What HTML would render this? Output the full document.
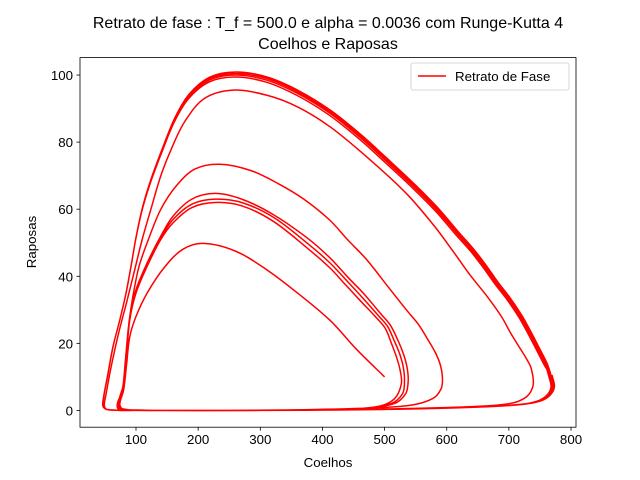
<!DOCTYPE html>
<html><head><meta charset="utf-8"><style>
body{margin:0;background:#fff;}
svg{display:block;font-family:"Liberation Sans","DejaVu Sans",sans-serif;}
</style></head><body>
<svg id="chart" width="640" height="480" viewBox="0 0 640 480" xmlns="http://www.w3.org/2000/svg">
<rect width="640" height="480" fill="#fff"/>
<text x="328" y="28" font-size="16" text-anchor="middle">Retrato de fase : T_f = 500.0 e alpha = 0.0036 com Runge-Kutta 4</text>
<text x="328" y="49" font-size="16" text-anchor="middle">Coelhos e Raposas</text>
<g id="plot"></g>
<rect x="80" y="57.6" width="496" height="369.6" fill="none" stroke="#000" stroke-width="0.8"/>
<g id="ticks"></g>
<text x="328" y="467" font-size="13.3" text-anchor="middle">Coelhos</text>
<text transform="translate(36,242) rotate(-90)" font-size="13.3" text-anchor="middle">Raposas</text>
<g>
<rect x="411" y="63" width="158" height="27" rx="2" fill="#fff" stroke="#ccc" stroke-width="0.8"/>
<line x1="418" y1="76" x2="446" y2="76" stroke="#f00" stroke-width="1.5"/>
<text x="455" y="81" font-size="13.3">Retrato de Fase</text>
</g>
</svg>
<script>
const xTicks=[100,200,300,400,500,600,700,800];
const yTicks=[0,20,40,60,80,100];
const loopA=[[500,10],[456,18],[412,26.9],[360,35],[310,42],[260,47.5],[208,49.8],[175,48],[145,42.5],[118,35],[100,28],[90,22],[85,14],[80,6],[74,2],[78,0.5],[110,0.1],[200,0],[320,0.05],[430,0.3],[490,1.2],[516,3.5],[527,8],[525,12],[519,16],[511,20],[501,24.5]];
const loopB=[[485,28],[462,32.5],[437,37.5],[412,42.5],[375,48.5],[320,56.5],[270,61],[227,62],[190,60.5],[160,56],[140,51],[118,43],[100,35],[90,27],[85,17],[80,7],[73,2],[76,0.5],[100,0.1],[200,0],[330,0.1],[455,0.5],[510,2],[529,5],[532,9],[530,13],[524,17],[515,21],[505,25]];
const loopC=[[489,28.5],[465,33.5],[440,38.5],[412,44],[378,49.5],[322,57.5],[270,62],[227,63],[190,61.5],[160,57],[140,51.5],[118,43.5],[100,35.5],[90,27.5],[85,17],[80,7],[72,2.2],[75,0.5],[100,0.1],[200,0],[330,0.1],[460,0.5],[515,2],[534,5],[538,9],[536,13],[530,17],[520,21.5],[509,25.5]];
const loopD=[[493,29],[468,34.5],[442,39.5],[412,45.5],[375,51.5],[320,58.5],[270,63],[227,64.7],[190,63],[160,58],[140,52],[118,44],[100,36],[90,28],[85,18],[80,8],[72,2.5],[74,0.5],[100,0.1],[200,0],[330,0.1],[460,0.6],[540,1.5],[577,3.5],[591,6.5],[593,10],[589,14],[581,17.5],[570,21]];
const loopE=[[555,25.5],[535,30],[505,37],[471,45],[440,51],[412,56.7],[370,63],[330,67.5],[285,71.5],[235,73.4],[195,72],[165,67],[140,60],[120,51],[105,43],[95,34],[88,25],[83,15],[78,6],[70,2],[72,0.4],[100,0.05],[250,0],[450,0.3],[620,1],[700,2],[728,4],[739,7.5],[736,12.5],[728,15.5],[718,18.5],[703,23]];
const loopF=[[688,28],[665,34],[637,40.5],[610,47.5],[580,55],[535,64.7],[475,75],[412,84.6],[360,90.5],[310,94],[256,95.5],[210,93],[178,86],[157,78],[140,70],[124,60],[110,51],[98,42],[86,33],[72,23],[60,13],[52,5],[49,1.5],[53,0.3],[100,0],[300,0],[500,0.3],[650,1],[720,1.8],[748,2.8],[763,4.5],[770,7],[766,10.5]];
const loopOuter=[[758,14],[747,18],[733,23],[718,28],[700,33],[680,37.8],[660,43],[640,47.8],[615,53],[584,59.7],[545,67],[501,74.6],[460,81.5],[412,88.6],[360,94.5],[310,98.5],[260,100],[218,98.5],[185,93.5],[162,86.5],[141,77],[123,68],[110,60],[100,51.5],[92,43],[84,35],[74,27],[63,19],[54,10],[48,4],[47,1.2],[55,0.2],[100,0],[300,0],[500,0.3],[650,1],[720,1.8],[748,2.8],[763,4.5],[770,7],[766,10.5]];
const outerShifts=[-2,0,1.5,3];

const X0=80,X1=576,Y0=427.2,Y1=57.6;
const xmin=9.9,xmax=808,ymin=-5,ymax=105.2;
const sx=v=>X0+(v-xmin)/(xmax-xmin)*(X1-X0);
const sy=v=>Y0-(v-ymin)/(ymax-ymin)*(Y0-Y1);
const NS="http://www.w3.org/2000/svg";
const ticks=document.getElementById('ticks');
xTicks.forEach(t=>{
  const l=document.createElementNS(NS,'line');
  
  
  l.setAttribute('x1',sx(t));l.setAttribute('x2',sx(t));l.setAttribute('y1',Y0);l.setAttribute('y2',Y0+3.5);l.setAttribute('stroke','#000');l.setAttribute('stroke-width','0.8');
  ticks.appendChild(l);
  const tx=document.createElementNS(NS,'text');
  
  
  tx.setAttribute('x',sx(t));tx.setAttribute('y',Y0+17);tx.setAttribute('font-size','13.3');tx.setAttribute('text-anchor','middle');
  tx.textContent=t;ticks.appendChild(tx);
});
yTicks.forEach(t=>{
  const l=document.createElementNS(NS,'line');
  
  
  l.setAttribute('x1',X0-3.5);l.setAttribute('x2',X0);l.setAttribute('y1',sy(t));l.setAttribute('y2',sy(t));l.setAttribute('stroke','#000');l.setAttribute('stroke-width','0.8');
  ticks.appendChild(l);
  const tx=document.createElementNS(NS,'text');
  
  
  tx.setAttribute('x',X0-7);tx.setAttribute('y',sy(t)+5);tx.setAttribute('font-size','13.3');tx.setAttribute('text-anchor','end');
  tx.textContent=t;ticks.appendChild(tx);
});
let pts=[].concat(loopA,loopB,loopC,loopD,loopE,loopF);
outerShifts.forEach(s=>{pts=pts.concat(loopOuter.map(p=>[p[0]+s*p[0]/700,p[1]+s*0.3*p[1]/100]));});
const P=pts.map(p=>[sx(p[0]),sy(p[1])]);
const dist=(a,b)=>Math.hypot(a[0]-b[0],a[1]-b[1])||1e-6;
function tangent(i){
  const a=P[Math.max(i-1,0)],b=P[Math.min(i+1,P.length-1)];
  const L=dist(a,P[i])+dist(P[i],b);
  return [(b[0]-a[0])/L,(b[1]-a[1])/L];
}
let d='M'+P[0][0].toFixed(2)+','+P[0][1].toFixed(2);
for(let i=0;i<P.length-1;i++){
  const p1=P[i],p2=P[i+1],L=dist(p1,p2)/3;
  const t1=tangent(i),t2=tangent(i+1);
  const c1=[p1[0]+t1[0]*L,p1[1]+t1[1]*L];
  const c2=[p2[0]-t2[0]*L,p2[1]-t2[1]*L];
  d+=' C'+c1[0].toFixed(2)+','+c1[1].toFixed(2)+' '+c2[0].toFixed(2)+','+c2[1].toFixed(2)+' '+p2[0].toFixed(2)+','+p2[1].toFixed(2);
}
const path=document.createElementNS(NS,'path');


path.setAttribute('d',d);path.setAttribute('fill','none');path.setAttribute('stroke','#f00');path.setAttribute('stroke-width','1.5');path.setAttribute('stroke-linejoin','round');
document.getElementById('plot').appendChild(path);
</script>
</body></html>
